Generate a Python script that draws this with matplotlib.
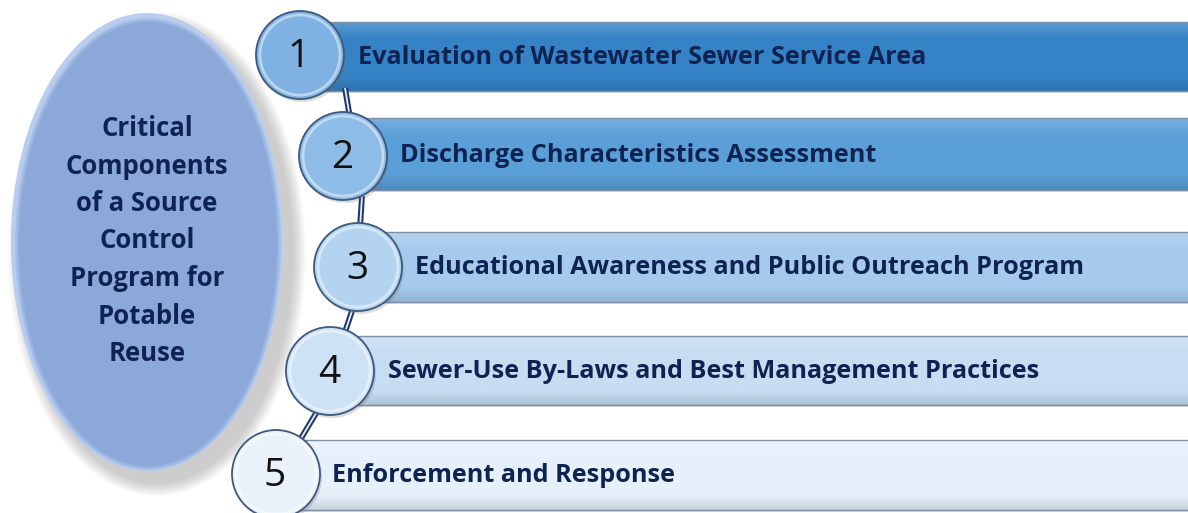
import numpy as np
import matplotlib
matplotlib.use("Agg")
import matplotlib.pyplot as plt
from matplotlib.patches import Ellipse, Circle, Rectangle
from matplotlib.colors import to_rgb

# ---------------- data ----------------
center_title = "Critical\nComponents\nof a Source\nControl\nProgram for\nPotable\nReuse"
step_numbers = ["1", "2", "3", "4", "5"]
step_labels = [
    "Evaluation of Wastewater Sewer Service Area",
    "Discharge Characteristics Assessment",
    "Educational Awareness and Public Outreach Program",
    "Sewer-Use By-Laws and Best Management Practices",
    "Enforcement and Response",
]
bar_colors = ["#3583c6", "#5a9fd8", "#a6caec", "#c6ddf2", "#e6f0fa"]
circle_colors = ["#7fb2e2", "#8dbce6", "#b4d3f0", "#cee2f5", "#e9f2fb"]

# ---------------- layout (pixels) ----------------
W, H = 1188, 513
circle_cx = [300, 343, 358, 330, 276]
circle_cy = [55, 156, 267, 371, 474]
radius = 44
bar_top = [22, 118, 232, 336, 440]
bar_bot = [91, 190, 302, 405, 510]
text_x = [358, 400, 415, 388, 332]
chain = [((345, 88), (350, 118)), ((362, 196), (360, 228)),
         ((353, 308), (345, 332)), ((318, 410), (300, 440))]
LABEL_FONT = "Open Sans"
NUM_FONT = "Open Sans"

fig = plt.figure(figsize=(W / 100, H / 100), dpi=100)
ax = fig.add_axes([0, 0, 1, 1])
ax.set_xlim(0, W)
ax.set_ylim(H, 0)
ax.axis("off")


def vgrad(c, top_l=0.18, bot_d=0.12, n=64):
    r = np.array(to_rgb(c))
    t = np.linspace(0, 1, n)[:, None]
    light = r + (1 - r) * top_l
    dark = r * (1 - bot_d)
    w1 = np.clip(1 - t / 0.25, 0, 1)
    w2 = np.clip((t - 0.8) / 0.2, 0, 1)
    col = r * (1 - w1 - w2) + light * w1 + dark * w2
    return np.clip(col[:, None, :], 0, 1)

# ----- ellipse shadow -----
ecx, ecy, ew, eh = 147, 242, 272, 458
for k in range(14):
    ax.add_patch(Ellipse((ecx + 10, ecy + 12), ew + 2 * k, eh + 2 * k,
                         facecolor="#606060", edgecolor="none", alpha=0.025, zorder=1))
ax.add_patch(Ellipse((ecx, ecy), ew, eh, facecolor="#b9cdee", edgecolor="none", zorder=2))
for k, col in enumerate(["#a8c0e8", "#97b2df", "#8ca8d9"]):
    ax.add_patch(Ellipse((ecx + 1, ecy + 2), ew - 6 - 4 * k, eh - 6 - 4 * k,
                         facecolor=col, edgecolor="none", zorder=2))
ax.text(ecx, ecy - 1, center_title, ha="center", va="center", fontsize=18.5,
        fontweight="bold", family=LABEL_FONT, color="#0f2352",
        linespacing=1.5, zorder=3)

# ----- bars -----
for i in range(5):
    y0, y1 = bar_top[i], bar_bot[i]
    x0 = circle_cx[i]
    ax.add_patch(Rectangle((x0, y0 + 2), W - x0 + 5, y1 - y0, facecolor="#808080",
                           alpha=0.25, edgecolor="none", zorder=3))
    rect = Rectangle((x0, y0), W - x0 + 5, y1 - y0, facecolor="none",
                     edgecolor="#7d8fa6", linewidth=1.0, zorder=5)
    ax.add_patch(rect)
    im = ax.imshow(vgrad(bar_colors[i]), extent=(x0, W + 5, y1, y0),
                   aspect="auto", zorder=4, interpolation="bilinear")
    im.set_clip_path(rect)
    ax.text(text_x[i], (y0 + y1) / 2 + 1, step_labels[i], ha="left", va="center",
            fontsize=18.2, fontweight="bold", family=LABEL_FONT, color="#0f2352", zorder=8)

# ----- chain -----
for (p, q) in chain:
    ax.plot([p[0], q[0]], [p[1], q[1]], color="#1f3668", lw=4.2,
            solid_capstyle="butt", zorder=6)
    ax.plot([p[0], q[0]], [p[1], q[1]], color="#e8eef8", lw=1.3,
            solid_capstyle="butt", zorder=6.1)

# ----- circles -----
for i in range(5):
    cx, cy = circle_cx[i], circle_cy[i]
    base = np.array(to_rgb(circle_colors[i]))
    ax.add_patch(Circle((cx + 2, cy + 3), radius, facecolor="#707070", alpha=0.25,
                        edgecolor="none", zorder=6.5))
    ax.add_patch(Circle((cx, cy), radius, facecolor=circle_colors[i],
                        edgecolor="#3f587c", linewidth=1.3, zorder=7))
    ring = np.clip(base + (1 - base) * 0.45, 0, 1)
    ax.add_patch(Circle((cx, cy), radius - 4, facecolor="none",
                        edgecolor=ring, linewidth=2.0, zorder=7.1))
    ax.add_patch(Circle((cx, cy), radius - 6, facecolor=circle_colors[i],
                        edgecolor="none", zorder=7.2))
    ax.text(cx - 1, cy + 2, step_numbers[i], ha="center", va="center",
            fontsize=28, family=NUM_FONT, color="#111111", zorder=8)

fig.savefig("out.png", dpi=100)
